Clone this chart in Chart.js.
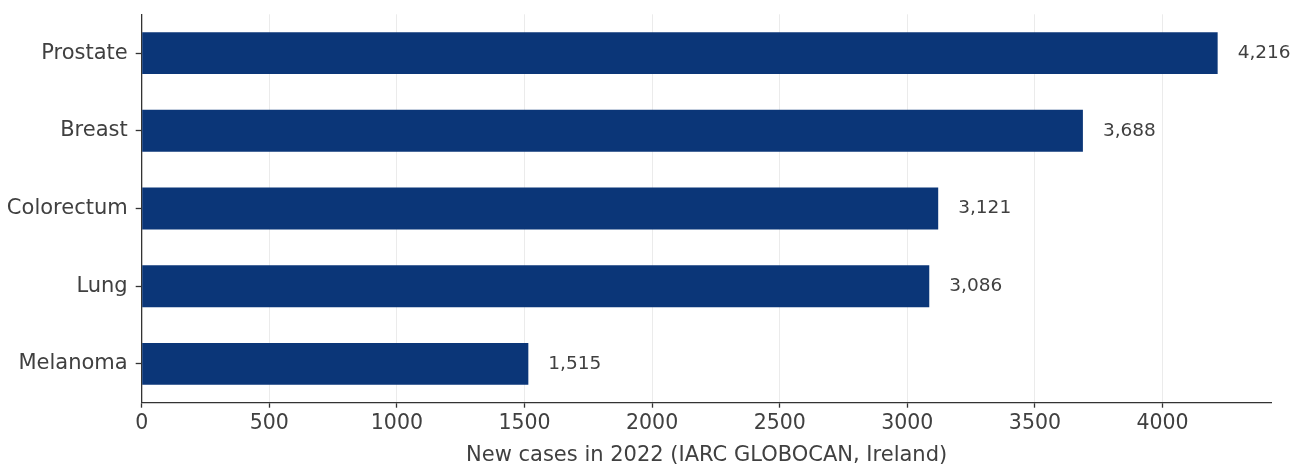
<!DOCTYPE html>
<html>
<head>
<meta charset="utf-8">
<script src="https://cdn.jsdelivr.net/npm/chart.js@4"></script>
<style>
html,body{margin:0;padding:0;background:#fff;}
#wrap{width:1305px;height:468px;position:relative;}
</style>
</head>
<body>
<div id="wrap"><canvas id="c" width="1305" height="468"></canvas></div>
<script>
const categories = ["Prostate", "Breast", "Colorectum", "Lung", "Melanoma"];
const newCases = [4216, 3688, 3121, 3086, 1515];
const xTicks = [0, 500, 1000, 1500, 2000, 2500, 3000, 3500, 4000];
const xTitle = "New cases in 2022 (IARC GLOBOCAN, Ireland)";

const TEXT = "#404040";
const FONT = "'DejaVu Sans', sans-serif";

const valueLabels = {
  id: "valueLabels",
  afterDatasetsDraw(chart) {
    const ctx = chart.ctx;
    const meta = chart.getDatasetMeta(0);
    ctx.save();
    ctx.font = "18.5px " + FONT;
    ctx.fillStyle = TEXT;
    ctx.textAlign = "left";
    ctx.textBaseline = "middle";
    meta.data.forEach((bar, i) => {
      ctx.fillText(newCases[i].toLocaleString("en-US"), bar.x + 20, bar.y);
    });
    ctx.restore();
  }
};

new Chart(document.getElementById("c"), {
  type: "bar",
  data: {
    labels: categories,
    datasets: [{
      data: newCases,
      backgroundColor: "#0b3678",
      borderWidth: 0,
      barPercentage: 0.54,
      categoryPercentage: 1.0
    }]
  },
  options: {
    indexAxis: "y",
    responsive: false,
    animation: false,
    devicePixelRatio: 1,
    layout: { padding: { left: 0, right: 33.5, top: 14.3, bottom: 0 } },
    plugins: { legend: { display: false }, tooltip: { enabled: false } },
    scales: {
      x: {
        type: "linear",
        min: 0,
        max: 4427,
        afterBuildTicks(scale) { scale.ticks = xTicks.map(v => ({ value: v })); },
        afterFit(scale) {
          scale.height = 65.3;
          scale.paddingLeft = 0; scale.paddingRight = 0;
        },
        border: { display: true, color: "#333", width: 1.3 },
        grid: {
          display: true,
          drawOnChartArea: true,
          drawTicks: true,
          tickLength: 5,
          color: "#ebebeb",
          tickColor: "#333",
          lineWidth: 1,
          tickWidth: 1.3
        },
        ticks: {
          color: TEXT,
          font: { family: FONT, size: 20.5 },
          padding: 4,
          maxRotation: 0,
          autoSkip: false,
          callback: v => String(v)
        },
        title: {
          display: true,
          text: xTitle,
          color: TEXT,
          font: { family: FONT, size: 21 },
          padding: { top: 3, bottom: 0 }
        }
      },
      y: {
        afterFit(scale) {
          scale.width = 141.7;
          scale.paddingTop = 0; scale.paddingBottom = 0;
        },
        border: { display: true, color: "#333", width: 1.3 },
        grid: {
          display: true,
          offset: false,
          drawOnChartArea: false,
          drawTicks: true,
          tickLength: 6,
          tickColor: "#333",
          tickWidth: 1.3
        },
        ticks: {
          color: TEXT,
          font: { family: FONT, size: 21 },
          padding: 8
        }
      }
    }
  },
  plugins: [valueLabels]
});
</script>
</body>
</html>
